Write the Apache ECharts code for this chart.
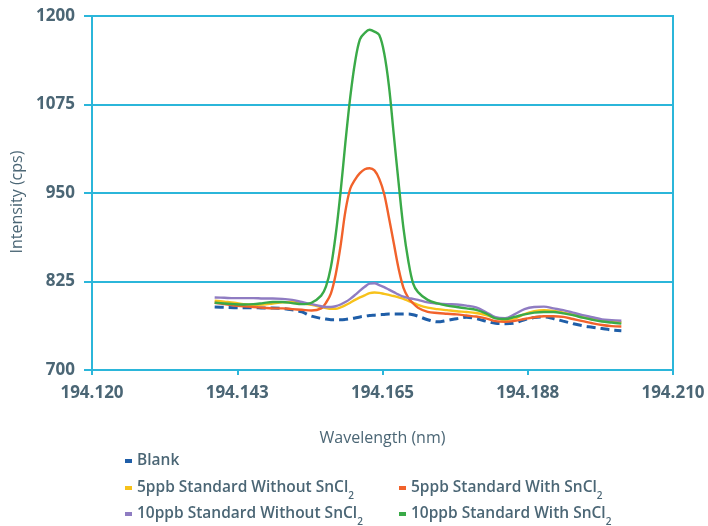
<!DOCTYPE html>
<html>
<head>
<meta charset="utf-8">
<script src="https://cdn.jsdelivr.net/npm/echarts@6/dist/echarts.min.js"></script>
<style>
html,body{margin:0;padding:0;background:#fff;}
#chart{width:708px;height:526px;}
</style>
</head>
<body>
<div id="chart"></div>
<script>
// Wavelength (nm) of each sample
const wavelengths = [
  194.1390,194.1405,194.1420,194.1435,194.1450,194.1465,194.1480,194.1495,194.1510,194.1525,
  194.1540,194.1555,194.15625,194.1570,194.15775,194.1585,194.15925,194.1600,194.16075,194.1615,
  194.16225,194.1630,194.16375,194.1645,194.16525,194.1660,194.16675,194.1675,194.16825,194.1690,
  194.16975,194.1705,
  194.1720,194.1735,194.1750,194.1765,194.1780,194.1795,194.1810,194.1825,194.1840,194.1855,
  194.1870,194.1885,194.1900,194.1915,194.1930,194.1945,194.1960,194.1975,194.1990,194.2005,
  194.2020
];
const blank = [
  789,788.5,788,788,788,787.5,787.5,787,785,782,
  776,773,772,771,771,771,771.5,772.5,773.5,775,
  776,777,777.5,778,778.5,779,779,779,779,779,
  778,776,
  771,768,770,772.5,774.5,772.5,769,766,765.5,766.5,
  771,774,775,772.5,769,765.5,762.5,760.5,758.5,756.5,
  755.5
];
const std5Without = [
  798,796.5,795,793,792,792.5,794,795.5,796,794.5,
  792,789,787.5,786.5,786.5,788.5,791.5,795,799,802.5,
  805.5,808.5,809.5,809,807.5,806,804.5,802.5,800.5,797.5,
  795,792,
  788,786,784.5,783,782,780.5,777.5,773.5,770.5,773,
  779,783,784.5,783.5,781,778,774.5,772,769.5,768.5,
  767.5
];
const std5With = [
  795,793,791,790,789,788,787,787,786,785,
  784,787,795,808,835,875,924,956,969,978,
  983.5,985,982,970,949,915,879,843,816,802,
  794,788,
  782,780.5,779.5,778.5,777,775.5,773,769,768,769.5,
  772,774.5,776,776,775,772,769,766,763.5,762,
  761.5
];
const std10Without = [
  802.5,802,801.5,801.5,801.5,801,801,800.5,799,796,
  793,790,789,789,790,792.5,796,800.5,806,812,
  817.5,822,822.5,820,817,813.5,810,806.5,803.5,801.5,
  800.5,799,
  795.5,794,793,792.5,791,788.5,782,774.5,773,779,
  786,789,789.5,787,784.5,781,777.5,774.5,771.5,770.5,
  769.5
];
const std10With = [
  795,794,793,792.5,793,794.5,796,796,794.5,793,
  795,805,818,845,891,951,1021,1085,1135,1167,
  1176,1180.5,1178,1173,1148,1101,1032,964,900,854,
  822,810,
  799,794,791,789,787,785,780,773,772,775,
  778.5,781,782,782,780,777.5,774,771,768.5,767,
  765.5
];
const seriesNames = [
  'Blank',
  '5ppb Standard Without SnCl2',
  '5ppb Standard With SnCl2',
  '10ppb Standard Without SnCl2',
  '10ppb Standard With SnCl2'
];
const xTicks = [194.12, 194.1425, 194.165, 194.1875, 194.21];
const xTickLabels = ['194.120', '194.143', '194.165', '194.188', '194.210'];
const yTicks = [700, 825, 950, 1075, 1200];
const yTickLabels = ['700', '825', '950', '1075', '1200'];

const seriesValues = [blank, std5Without, std5With, std10Without, std10With];
const colors = ['#1f5ea8', '#f7c21b', '#f1622b', '#8f7cc2', '#3aaa48'];
const textColor = '#4b6675';
const axisColor = '#2bb6da';
const FONT = '"Open Sans", "DejaVu Sans", sans-serif';

function nearestLabel(v, ticks, labels) {
  let best = 0;
  for (let i = 1; i < ticks.length; i++) {
    if (Math.abs(ticks[i] - v) < Math.abs(ticks[best] - v)) best = i;
  }
  return labels[best];
}

const legendPos = [
  {left: 125, top: 452},
  {left: 125, top: 479},
  {left: 399, top: 479},
  {left: 125, top: 505},
  {left: 399, top: 505}
];

const legends = seriesNames.map((n, i) => ({
  data: [n],
  left: legendPos[i].left,
  top: legendPos[i].top,
  orient: 'horizontal',
  padding: 0,
  itemWidth: 7,
  itemHeight: 4,
  itemGap: 0,
  itemTextGap: 12,
  icon: 'rect',
  selectedMode: false,
  itemStyle: {borderWidth: 0},
  lineStyle: {width: 0},
  formatter: name => name.replace('SnCl2', 'SnCl{sub|2}'),
  textStyle: {
    color: textColor,
    fontFamily: FONT,
    fontSize: 15.5,
    fontWeight: 600,
    lineHeight: 18,
    rich: {
      sub: {fontFamily: FONT, fontSize: 10, fontWeight: 600, color: textColor,
            lineHeight: 10, padding: [12, 0, 0, 0], verticalAlign: 'top'}
    }
  }
}));

const chart = echarts.init(document.getElementById('chart'), null, {renderer: 'canvas'});
chart.setOption({
  animation: false,
  backgroundColor: '#ffffff',
  grid: {
    left: 92, right: 35, top: 16, bottom: 156,
    show: true, borderColor: axisColor, borderWidth: 2, backgroundColor: 'transparent'
  },
  legend: legends,
  xAxis: {
    type: 'value',
    min: 194.12,
    max: 194.21,
    name: 'Wavelength (nm)',
    nameLocation: 'middle',
    nameGap: 60,
    nameTextStyle: {color: textColor, fontFamily: FONT, fontSize: 16},
    axisLine: {show: true, lineStyle: {color: axisColor, width: 2}},
    axisTick: {show: true, length: 5, lineStyle: {color: axisColor, width: 2}, customValues: xTicks},
    axisLabel: {
      customValues: xTicks,
      color: textColor, fontFamily: FONT, fontSize: 17, fontWeight: 'bold', margin: 15,
      formatter: v => nearestLabel(v, xTicks, xTickLabels)
    },
    splitLine: {show: false}
  },
  yAxis: {
    type: 'value',
    min: 700,
    max: 1200,
    name: 'Intensity (cps)',
    nameLocation: 'middle',
    nameGap: 60,
    nameTextStyle: {color: textColor, fontFamily: FONT, fontSize: 16, padding: [0, 18, 0, 0]},
    axisLine: {show: true, lineStyle: {color: axisColor, width: 2}},
    axisTick: {show: true, length: 8, lineStyle: {color: axisColor, width: 2}, customValues: yTicks},
    axisLabel: {
      customValues: yTicks,
      color: textColor, fontFamily: FONT, fontSize: 17, fontWeight: 'bold', margin: 17,
      formatter: v => nearestLabel(v, yTicks, yTickLabels)
    },
    splitLine: {show: true, lineStyle: {color: axisColor, width: 2}}
  },
  series: seriesNames.map((n, i) => ({
    name: n,
    type: 'line',
    data: wavelengths.map((w, k) => [w, seriesValues[i][k]]),
    showSymbol: false,
    symbol: 'none',
    smooth: 0.35,
    color: colors[i],
    lineStyle: i === 0
      ? {color: colors[i], width: 3, type: [9, 5]}
      : {color: colors[i], width: 2.4},
    z: 2 + i
  }))
});
</script>
</body>
</html>
